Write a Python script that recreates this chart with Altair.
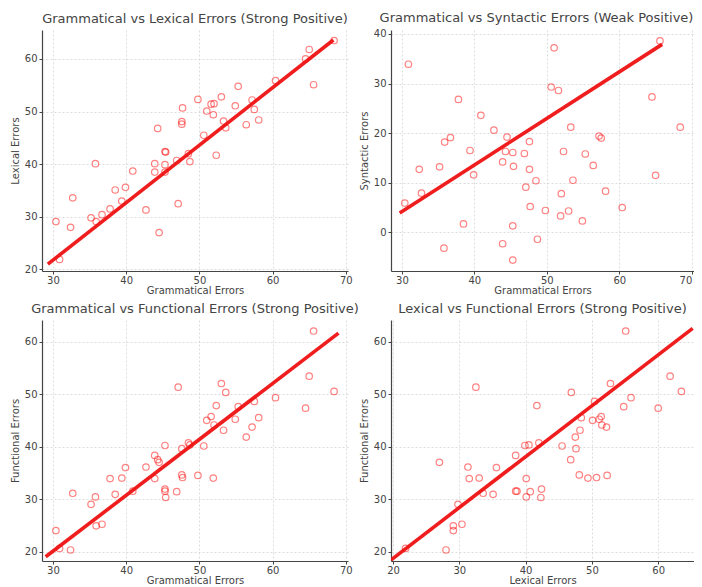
import altair as alt
import pandas as pd

# values (one entry per student)
grammatical = [68.4, 65.0, 64.5, 65.6, 60.4, 55.3, 53.0, 49.8, 47.7, 57.2,
               54.9, 51.6, 52.0, 51.0, 51.9, 57.5, 53.3, 47.6, 47.6, 56.4,
               58.1, 53.6, 44.3, 50.6, 45.3, 45.4, 48.5, 52.3, 46.9, 48.7,
               43.9, 45.3, 35.8, 40.9, 43.9, 45.3, 39.9, 38.5, 32.7, 39.4,
               47.1, 42.7, 37.8, 36.7, 35.2, 35.9, 30.4, 32.4, 44.5, 30.9]
lexical = [63.5, 61.8, 60.0, 55.1, 55.9, 54.8, 52.8, 52.3, 50.7, 52.2,
           51.1, 51.4, 51.5, 50.1, 49.4, 50.4, 48.2, 48.1, 47.6, 47.5,
           48.4, 46.9, 46.8, 45.5, 42.4, 42.3, 42.0, 41.7, 40.7, 40.5,
           40.1, 39.9, 40.1, 38.7, 38.5, 38.5, 35.6, 35.1, 33.6, 33.0,
           32.5, 31.3, 31.5, 30.4, 29.8, 29.1, 29.1, 28.0, 27.0, 21.9]
syntactic = [21.2, 11.5, 27.3, 38.6, 5.0, 15.8, 4.3, 4.4, 5.2, 19.4,
             2.3, 28.6, 7.8, 37.2, 3.3, 19.0, 21.2, 18.3, 12.7, 13.5,
             8.3, 10.5, 16.3, 29.3, 16.1, 13.3, 10.4, 16.3, 15.9, -1.4,
             14.2, 1.3, -3.2, 23.6, -2.3, -5.6, 11.6, 1.7, 7.9, 16.5,
             9.1, 20.6, 26.8, 19.1, 13.2, 18.2, 5.9, 12.7, 19.2, 33.9]
functional = [50.5, 53.4, 47.3, 62.0, 49.3, 47.6, 52.0, 34.5, 34.1, 43.7,
              45.2, 45.7, 44.1, 45.0, 34.0, 48.6, 43.1, 34.6, 39.6, 41.8,
              45.5, 50.3, 37.5, 40.1, 31.9, 30.3, 40.7, 47.8, 31.4, 40.3,
              33.9, 40.2, 30.4, 31.5, 38.3, 31.5, 36.0, 30.9, 31.1, 34.0,
              51.3, 36.1, 33.9, 25.2, 29.0, 24.9, 24.0, 20.3, 37.0, 20.6]

# fitted-line end points as drawn in the reference
line1_x = [29.3, 68.3]; line1_y = [21.0, 63.6]
line2_x = [29.7, 65.9]; line2_y = [3.9, 37.9]
line3_x = [29.0, 69.0]; line3_y = [19.0, 61.6]
line4_x = [19.7, 65.2]; line4_y = [18.4, 62.5]

titles = ["Grammatical vs Lexical Errors (Strong Positive)",
          "Grammatical vs Syntactic Errors (Weak Positive)",
          "Grammatical vs Functional Errors (Strong Positive)",
          "Lexical vs Functional Errors (Strong Positive)"]

df = pd.DataFrame({"Grammatical": grammatical, "Lexical": lexical,
                   "Syntactic": syntactic, "Functional": functional})

H = 241


def panel(xcol, ycol, title, xdom, ydom, xticks, yticks, lx, ly,
          width, flush=0, title_dx=0):
    xs = alt.Scale(domain=xdom, nice=False, zero=False)
    ys = alt.Scale(domain=ydom, nice=False, zero=False)
    xaxis_kw = dict(values=xticks, title=f"{xcol} Errors",
                    labelPadding=1, titlePadding=0)
    if flush:
        xaxis_kw["labelFlush"] = flush
    xenc = alt.X(f"{xcol}:Q", scale=xs, axis=alt.Axis(**xaxis_kw))
    yenc = alt.Y(f"{ycol}:Q", scale=ys,
                 axis=alt.Axis(values=yticks, title=f"{ycol} Errors"))
    pts = alt.Chart(df).mark_point(
        shape="circle", filled=False, color="#ff0000", strokeOpacity=0.7,
        strokeWidth=1.2, size=42, clip=True
    ).encode(x=xenc, y=yenc)
    ldf = pd.DataFrame({xcol: lx, ycol: ly})
    ln = alt.Chart(ldf).mark_line(
        color="#ee1111", strokeWidth=3.6, clip=True, opacity=0.95
    ).encode(x=f"{xcol}:Q", y=f"{ycol}:Q")
    return alt.layer(pts, ln).properties(
        width=width, height=H, title=alt.TitleParams(title, dx=title_dx))


gx = [30, 35, 40, 45, 50, 55, 60, 65, 70]
p1 = panel("Grammatical", "Lexical", titles[0], [28.5, 70.3], [19.7, 65.5],
           gx, [20, 30, 40, 50, 60], line1_x, line1_y, 306)
p2 = panel("Grammatical", "Syntactic", titles[1], [28.5, 70.3], [-7.8, 40.8],
           gx, [0, 10, 20, 30, 40], line2_x, line2_y, 303,
           flush=5, title_dx=-6)
p3 = panel("Grammatical", "Functional", titles[2], [28.5, 70.3], [18.2, 64.1],
           gx, [20, 30, 40, 50, 60], line3_x, line3_y, 306)
p4 = panel("Lexical", "Functional", titles[3], [19.7, 65.4], [18.2, 64.1],
           [20, 30, 40, 50, 60], [20, 30, 40, 50, 60], line4_x, line4_y, 303)

chart = alt.concat(p1, p2, p3, p4, columns=2,
                   spacing={"row": 49, "column": 43}, bounds="flush"
).properties(
    padding={"left": 2, "top": 3, "right": 0, "bottom": 0}
).configure(
    font="DejaVu Sans"
).configure_view(
    stroke=None
).configure_title(
    font="DejaVu Sans", fontSize=13, fontWeight="normal", color="#444444",
    anchor="middle", frame="group", offset=4
).configure_axis(
    labelFont="DejaVu Sans", labelFontSize=10, labelColor="#444444",
    titleFont="DejaVu Sans", titleFontSize=10, titleFontWeight="normal",
    titleColor="#444444", domainColor="#444444", domainWidth=1.2,
    tickColor="#444444", tickSize=3, tickWidth=1, labelPadding=2,
    titlePadding=4, grid=True, gridColor="#d4d4d4", gridDash=[2, 2],
    gridWidth=0.8
)

chart.save("out.html", embed_options={"renderer": "svg", "actions": False})
